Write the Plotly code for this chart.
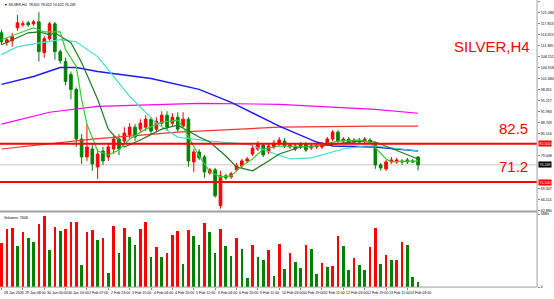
import plotly.graph_objects as go

# ---------------- data ----------------
bar_index = list(range(79))

opens = [115.16, 112.24, 112.82, 116.63, 117.50, 118.09, 117.80, 118.38, 109.31, 113.41,
         117.80, 109.61, 106.68, 102.87, 98.49, 83.86, 78.59, 80.93, 75.66, 80.34,
         78.59, 80.93, 83.86, 83.27, 85.03, 87.37, 86.78, 87.37, 89.71, 86.78,
         88.54, 90.88, 88.54, 90.29, 87.66, 89.71, 77.13, 80.05, 78.59, 73.91,
         74.79, 64.25, 73.03, 72.74, 74.79, 75.96, 77.42, 79.47, 80.93, 82.10,
         80.05, 81.52, 82.39, 83.27, 81.52, 80.93, 82.39, 82.39, 81.22, 81.52,
         81.52, 82.39, 83.86, 85.90, 83.27, 83.86, 82.98, 83.56, 83.27, 83.56,
         82.39, 76.25, 75.08, 77.13, 77.13, 77.42, 77.71, 77.42, 78.60]
highs = [116.04, 113.70, 115.16, 120.43, 118.68, 118.68, 118.97, 121.31, 114.29, 118.38,
         118.38, 110.19, 107.85, 103.75, 99.07, 85.32, 88.25, 82.39, 80.93, 81.52,
         82.39, 84.73, 85.32, 87.37, 88.54, 88.25, 89.71, 90.88, 90.29, 90.29,
         92.05, 92.05, 91.46, 91.76, 91.76, 90.29, 80.93, 80.93, 79.17, 75.37,
         75.37, 74.49, 73.62, 74.20, 76.83, 78.00, 78.59, 82.10, 83.27, 82.69,
         82.39, 83.56, 84.44, 84.15, 82.69, 82.39, 82.98, 82.98, 82.39, 82.39,
         82.98, 84.44, 86.49, 86.49, 84.44, 84.44, 84.15, 84.15, 84.44, 84.15,
         82.98, 76.83, 77.71, 78.59, 78.30, 78.00, 78.30, 78.00, 78.65]
lows = [111.65, 111.36, 111.07, 115.75, 116.92, 116.92, 117.21, 106.68, 107.85, 112.82,
        107.26, 106.09, 99.66, 95.56, 81.52, 76.54, 77.42, 74.49, 72.15, 76.25,
        77.42, 79.47, 79.17, 82.10, 83.86, 83.27, 85.61, 86.20, 85.03, 85.90,
        87.66, 86.20, 87.66, 85.90, 87.07, 75.66, 74.20, 77.71, 72.44, 73.32,
        66.59, 63.37, 71.86, 72.15, 74.20, 75.37, 76.83, 78.88, 80.34, 78.59,
        79.47, 80.93, 81.81, 81.22, 80.93, 80.34, 80.93, 80.05, 80.64, 80.93,
        80.93, 81.81, 83.27, 82.69, 82.69, 82.39, 82.39, 82.39, 82.69, 82.39,
        75.08, 74.49, 74.49, 76.54, 76.54, 76.25, 76.54, 76.83, 74.62]
closes = [112.53, 113.12, 113.99, 118.09, 117.80, 117.50, 118.38, 109.61, 113.41, 117.80,
          109.61, 106.97, 100.83, 98.49, 83.86, 78.59, 81.52, 76.54, 79.47, 77.42,
          81.52, 83.86, 80.93, 85.61, 87.37, 84.44, 88.54, 89.71, 86.20, 89.12,
          90.88, 87.37, 90.29, 86.78, 89.71, 77.42, 80.05, 78.30, 74.20, 74.79,
          67.18, 73.03, 72.44, 73.62, 75.96, 77.42, 78.00, 81.22, 82.39, 79.17,
          81.81, 82.69, 83.56, 81.81, 82.10, 81.81, 81.52, 80.64, 81.81, 81.81,
          82.39, 83.86, 85.90, 83.27, 83.86, 82.98, 83.56, 82.98, 83.86, 82.98,
          76.25, 75.37, 77.13, 77.71, 77.71, 77.13, 77.13, 77.13, 76.25]
volumes = [3600, 4720, 4800, 3360, 4456, 4000, 3680, 5120, 5736, 2984,
           4856, 4560, 4720, 5280, 5304, 1816, 4504, 4616, 3840, 3976,
           1176, 4960, 2776, 4776, 4080, 3416, 4696, 5280, 2456, 3224,
           2480, 2776, 4240, 4584, 1920, 4640, 4136, 3384, 5224, 4456,
           2800, 4744, 3304, 2504, 4000, 3120, 744, 3384, 2456, 2184,
           3040, 936, 3496, 1520, 2800, 2080, 1600, 3416, 3120, 1120,
           2000, 1680, 1760, 4160, 3336, 1384, 2376, 1840, 1416, 3224,
           4800, 1896, 2616, 2184, 2216, 3656, 3440, 880, 480]

# moving averages read at selected bars
ma_fast_x = [0, 6, 8, 11, 12, 14, 15, 16, 18, 20, 22, 24, 27, 30, 33, 34, 37, 39, 41, 43, 45, 47, 49, 52, 58, 63, 67, 69, 72, 73, 78]
ma_fast_y = [113.12, 116.63, 115.46, 115.46, 110.19, 105.22, 95.56, 88.25, 80.34, 79.17, 80.64, 83.86, 86.78, 88.83, 89.41, 87.37, 78.88, 74.20, 72.74, 73.03, 75.96, 78.00, 80.93, 81.81, 81.52, 83.27, 83.56, 82.98, 78.00, 77.13, 77.42]
ma_mid_x = [0, 5, 7, 9, 10, 13, 15, 18, 20, 23, 26, 30, 33, 35, 37, 39, 42, 44, 47, 50, 52, 56, 61, 67, 70, 78]
ma_mid_y = [111.65, 115.16, 115.46, 114.58, 115.16, 112.24, 106.39, 95.56, 86.78, 81.52, 83.56, 86.78, 87.95, 86.20, 84.44, 82.98, 78.88, 75.66, 74.49, 77.42, 79.47, 81.52, 82.10, 83.27, 82.98, 78.00]
ma_cyan_x = [0, 3, 11, 14, 18, 24, 29, 33, 39, 46, 54, 58, 64, 68, 70, 78]
ma_cyan_y = [108.73, 111.07, 113.12, 112.53, 108.14, 96.44, 88.54, 84.44, 83.27, 82.39, 78.00, 78.30, 80.93, 81.81, 81.81, 80.34]
ma_blue_x = [0, 6, 11, 14, 18, 28, 37, 43, 52, 59, 62, 70, 78]
ma_blue_y = [99.95, 102.29, 104.92, 104.92, 103.75, 101.71, 98.49, 94.68, 87.66, 82.98, 81.81, 81.52, 80.34]
ma_magenta_x = [0, 9, 18, 37, 52, 70, 78]
ma_magenta_y = [88.25, 91.76, 93.51, 94.39, 94.10, 92.63, 91.46]
ma_red_x = [0, 17, 33, 52, 70, 78]
ma_red_y = [80.93, 83.86, 85.90, 87.37, 87.66, 87.66]

levels = [82.5, 71.2]
level_texts = ["82.5", "71.2"]
last_price = 76.249

price_ticks = [124.320, 121.086, 117.853, 114.619, 111.385, 108.152, 104.918, 101.684, 98.451,
               95.217, 91.983, 88.749, 85.516, 79.048, 69.347, 66.114, 62.880]
time_tick_idx = [0, 4, 8, 12, 16, 20, 24, 28, 32, 36, 40, 44, 48, 52, 56, 60, 64, 68, 72, 76]
time_tick_labels = ["28 Jan 2026", "29 Jan 08:00", "30 Jan 00:00", "30 Jan 16:00", "2 Feb 07:00",
                    "2 Feb 23:00", "3 Feb 15:00", "4 Feb 04:00", "4 Feb 20:00", "5 Feb 12:00",
                    "6 Feb 04:00", "6 Feb 20:00", "9 Feb 11:00", "10 Feb 03:00", "10 Feb 19:00",
                    "11 Feb 11:00", "12 Feb 03:00", "12 Feb 19:00", "13 Feb 11:00", "14 Feb 03:00"]
title_text = "▼ SILVER,H4  78.601 78.652 74.622 76.249"
volume_title = "Volumes: 7608"
vol_max_label = 5880

# ---------------- figure ----------------
W, H = 554, 299
plot_right = 540 / W
main_dom = [1 - 212 / H, 1.0]
vol_dom = [1 - 289 / H, 1 - 214 / H]

RED = "#ff0000"
GREEN = "#008000"
TINY = 3.6
BIG = 15
font_small = dict(family="Liberation Sans, Arial", size=TINY, color="#000000")
font_big = dict(family="Liberation Sans, Arial", size=BIG, color=RED)

vol_colors = []
for i, v in enumerate(volumes):
    if i == 0 or v > volumes[i - 1]:
        vol_colors.append(RED)
    else:
        vol_colors.append(GREEN)

fig = go.Figure()

fig.add_trace(go.Candlestick(
    x=bar_index, open=opens, high=highs, low=lows, close=closes,
    increasing=dict(line=dict(color=RED, width=1), fillcolor=RED),
    decreasing=dict(line=dict(color=GREEN, width=1), fillcolor=GREEN),
    whiskerwidth=0, xaxis="x", yaxis="y", showlegend=False, hoverinfo="skip"))

ma_specs = [
    (ma_red_x, ma_red_y, "#ff3030", 1.2),
    (ma_magenta_x, ma_magenta_y, "#ff00ff", 1.2),
    (ma_blue_x, ma_blue_y, "#1a1aff", 1.4),
    (ma_cyan_x, ma_cyan_y, "#40e0d0", 1.2),
    (ma_mid_x, ma_mid_y, "#1e7b1e", 1.2),
    (ma_fast_x, ma_fast_y, "#33cc33", 1.2),
]
for mx, my, col, w in ma_specs:
    fig.add_trace(go.Scatter(x=mx, y=my, mode="lines", line=dict(color=col, width=w),
                             xaxis="x", yaxis="y", showlegend=False, hoverinfo="skip"))

fig.add_trace(go.Bar(x=bar_index, y=volumes, marker=dict(color=vol_colors, line=dict(width=0)),
                     width=0.5, xaxis="x2", yaxis="y2", showlegend=False, hoverinfo="skip"))

shapes = []
shapes.append(dict(type="line", xref="paper", yref="y", x0=0, x1=plot_right, y0=last_price, y1=last_price,
                   line=dict(color="#c8c8c8", width=1), layer="below"))
for lv in levels:
    shapes.append(dict(type="line", xref="paper", yref="y", x0=0, x1=plot_right, y0=lv, y1=lv,
                       line=dict(color=RED, width=2)))
shapes.append(dict(type="line", xref="paper", yref="paper", x0=0, x1=plot_right,
                   y0=1 - 213 / H, y1=1 - 213 / H, line=dict(color="#a0a0a0", width=2)))
shapes.append(dict(type="line", xref="paper", yref="paper", x0=0, x1=plot_right,
                   y0=vol_dom[0], y1=vol_dom[0], line=dict(color="#a0a0a0", width=1)))
shapes.append(dict(type="line", xref="paper", yref="paper", x0=plot_right, x1=plot_right,
                   y0=vol_dom[0], y1=1, line=dict(color="#a0a0a0", width=1)))

annotations = []
annotations.append(dict(text=title_text, xref="paper", yref="paper", x=0.004, y=1 - 1 / H,
                        xanchor="left", yanchor="top", showarrow=False, font=font_small))
annotations.append(dict(text=volume_title, xref="paper", yref="paper", x=0.004, y=vol_dom[1] - 1 / H,
                        xanchor="left", yanchor="top", showarrow=False, font=font_small))
annotations.append(dict(text="SILVER,H4", xref="paper", yref="paper", x=535 / W, y=1 - 47 / H,
                        xanchor="right", yanchor="middle", showarrow=False, font=font_big))
for lv, txt in zip(levels, level_texts):
    annotations.append(dict(text=txt, xref="paper", yref="y", x=533 / W, y=lv,
                            xanchor="right", yanchor="bottom", yshift=5, showarrow=False,
                            font=font_big))
    annotations.append(dict(text="%.3f" % lv, xref="paper", yref="y", x=plot_right + 1 / W, y=lv,
                            xanchor="left", yanchor="middle", showarrow=False, bgcolor=RED,
                            borderpad=0.5, font=dict(family="Liberation Sans, Arial", size=TINY, color="#ffffff")))
annotations.append(dict(text="%.3f" % last_price, xref="paper", yref="y", x=plot_right + 1 / W, y=last_price,
                        xanchor="left", yanchor="middle", showarrow=False, bgcolor="#000000",
                        borderpad=0.5, font=dict(family="Liberation Sans, Arial", size=TINY, color="#ffffff")))
for idx, lab in zip(time_tick_idx, time_tick_labels):
    annotations.append(dict(text=lab, xref="x2", yref="paper", x=idx, y=1 - 290.5 / H,
                            xanchor="left", yanchor="top", xshift=0.5, showarrow=False, font=font_small))

xr = [-0.28, 100.28]
fig.update_layout(
    width=W, height=H, margin=dict(l=0, r=0, t=0, b=0),
    paper_bgcolor="#ffffff", plot_bgcolor="#ffffff",
    showlegend=False, bargap=0,
    xaxis=dict(domain=[0, plot_right], range=xr, anchor="y", showticklabels=False, showgrid=False,
               zeroline=False, rangeslider=dict(visible=False), ticks=""),
    yaxis=dict(domain=main_dom, range=[62.79, 124.82], side="right", anchor="x", showgrid=False,
               zeroline=False, tickvals=price_ticks, ticktext=["%.3f" % t for t in price_ticks],
               ticks="outside", ticklen=2, tickcolor="#808080", tickfont=font_small,
               showline=False),
    xaxis2=dict(domain=[0, plot_right], range=xr, anchor="y2", matches="x", showticklabels=False,
                showgrid=False, zeroline=False, tickvals=time_tick_idx, ticks="outside", ticklen=2,
                tickcolor="#808080"),
    yaxis2=dict(domain=vol_dom, range=[0, 6000], side="right", anchor="x2", showgrid=False,
                zeroline=False, tickvals=[0, vol_max_label], ticktext=["0", str(vol_max_label)],
                ticks="outside", ticklen=2, tickcolor="#808080", tickfont=font_small),
    shapes=shapes, annotations=annotations,
)

fig.write_html("out.html")
